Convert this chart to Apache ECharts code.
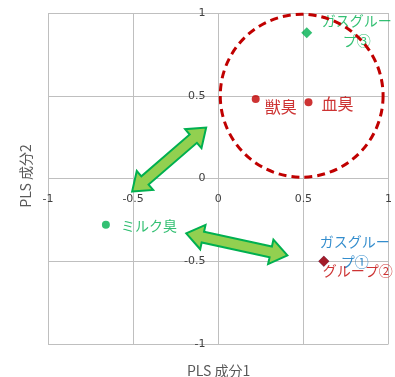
<!DOCTYPE html>
<html>
<head>
<meta charset="utf-8">
<script src="https://cdn.jsdelivr.net/npm/echarts@6/dist/echarts.min.js"></script>
<style>html,body{margin:0;padding:0;background:#fff}#c{width:395px;height:377px}</style>
</head>
<body>
<div id="c"></div>
<script>
// ---- data ----
var axisTicks = [-1, -0.5, 0, 0.5, 1];
var redPointNames = ['獣臭', '血臭'];
var redPointX = [0.22, 0.53];
var redPointY = [0.48, 0.46];
var milkName = 'ミルク臭';
var milkX = [-0.66];
var milkY = [-0.28];
var gas3Name = 'ガスグルー\nプ③';
var gas3X = [0.52];
var gas3Y = [0.88];
var gas1Name = 'ガスグルー\nプ①';
var gas1X = [0.62];
var gas1Y = [-0.50];
var gas2Name = 'グループ②';
var gas2X = [0.62];
var gas2Y = [-0.50];
// annotations (data units)
var circleCenterX = [0.49];
var circleCenterY = [0.50];
var circleRadius = [0.485];
var arrowX1 = [-0.506, -0.188];
var arrowY1 = [-0.079, -0.332];
var arrowX2 = [-0.071, 0.406];
var arrowY2 = [0.308, -0.465];

var RED = '#c00000', GREEN = '#00b050', BLUE = '#0070c0', GRAY = '#595959', LBL = '#404040';
var JP = '"Noto Sans CJK JP", "Noto Sans", sans-serif';

function zip(xs, ys) { return xs.map(function (x, i) { return [x, ys[i]]; }); }

var chart = echarts.init(document.getElementById('c'), null, { renderer: 'canvas' });

var GL = 48, GR = 6, GT = 13, GB = 33, W = 395, H = 377;
var plotW = W - GL - GR, plotH = H - GT - GB;

function axisCfg(extra) {
  var base = {
    type: 'value', min: axisTicks[0], max: axisTicks[axisTicks.length - 1], interval: axisTicks[1] - axisTicks[0],
    axisLine: { show: false, onZero: false },
    axisTick: { show: false },
    splitLine: { show: true, lineStyle: { color: '#bfbfbf', width: 1 } },
    axisLabel: { color: LBL, fontSize: 11, fontFamily: '"DejaVu Sans", sans-serif' }
  };
  return echarts.util.merge(base, extra, true);
}

var option = {
  animation: false,
  grid: { left: GL, right: GR, top: GT, bottom: GB },
  // axes placed through the zero point of the other axis (as in the reference)
  xAxis: axisCfg({ offset: -plotH / 2, axisLabel: { margin: 15 } }),
  yAxis: axisCfg({ offset: -plotW / 2, axisLabel: { margin: 13 } }),
  graphic: [
    { type: 'text', left: 187, top: 364, style: { text: 'PLS 成分1', fill: GRAY, font: '14px ' + JP } },
    { type: 'text', x: 26, y: 176, rotation: Math.PI / 2, style: { text: 'PLS 成分2', fill: GRAY, font: '14px ' + JP, align: 'center', verticalAlign: 'middle' } }
  ],
  series: [
    {
      type: 'custom', z: 5, silent: true,
      data: [[circleCenterX[0], circleCenterY[0], circleRadius[0]]],
      renderItem: function (params, api) {
        var c = api.coord([api.value(0), api.value(1)]);
        var s = api.size([api.value(2), api.value(2)]);
        return {
          type: 'circle',
          shape: { cx: c[0], cy: c[1], r: (s[0] + s[1]) / 2 },
          style: { fill: 'none', stroke: RED, lineWidth: 3, lineDash: [8, 5] }
        };
      }
    },
    {
      type: 'custom', z: 6, silent: true,
      encode: { x: [0, 2], y: [1, 3] },
      data: arrowX1.map(function (x, i) { return [x, arrowY1[i], arrowX2[i], arrowY2[i]]; }),
      renderItem: function (params, api) {
        var a = api.coord([api.value(0), api.value(1)]);
        var b = api.coord([api.value(2), api.value(3)]);
        var dx = b[0] - a[0], dy = b[1] - a[1];
        var L = Math.sqrt(dx * dx + dy * dy);
        var ux = dx / L, uy = dy / L, nx = -uy, ny = ux;
        var h = 17, hw = 12.5, sw = 5.5;
        function P(t, w) { return [a[0] + ux * t + nx * w, a[1] + uy * t + ny * w]; }
        var pts = [P(0, 0), P(h, hw), P(h, sw), P(L - h, sw), P(L - h, hw), P(L, 0),
                   P(L - h, -hw), P(L - h, -sw), P(h, -sw), P(h, -hw)];
        return {
          type: 'polygon', shape: { points: pts },
          style: { fill: '#92d050', stroke: GREEN, lineWidth: 2, lineJoin: 'miter' }
        };
      }
    },
    {
      type: 'scatter', z: 3, symbol: 'circle', symbolSize: 8,
      itemStyle: { color: RED },
      data: redPointNames.map(function (n, i) {
        return {
          name: n, value: [redPointX[i], redPointY[i]],
          label: i === 0 ? { distance: 5, offset: [0, 8] } : { distance: 9, offset: [0, 2] }
        };
      }),
      label: { show: true, position: 'right', formatter: '{b}', color: RED, fontSize: 16, fontFamily: JP }
    },
    {
      type: 'scatter', z: 3, symbol: 'circle', symbolSize: 8,
      itemStyle: { color: GREEN },
      data: [{ name: milkName, value: zip(milkX, milkY)[0] }],
      label: { show: true, position: 'right', distance: 11, offset: [0, 1], formatter: '{b}', color: GREEN, fontSize: 14, fontFamily: JP }
    },
    {
      type: 'scatter', z: 3, symbol: 'diamond', symbolSize: 11,
      itemStyle: { color: GREEN },
      data: [{ name: gas3Name, value: zip(gas3X, gas3Y)[0] }],
      label: { show: true, position: [55.5, 3.5], align: 'center', verticalAlign: 'middle', lineHeight: 20,
        formatter: '{b}', color: GREEN, fontSize: 14, fontFamily: JP }
    },
    {
      type: 'scatter', z: 3, symbol: 'diamond', symbolSize: 11,
      itemStyle: { color: BLUE },
      data: [{ name: gas1Name, value: zip(gas1X, gas1Y)[0] }],
      label: { show: true, position: [36.5, -4.5], align: 'center', verticalAlign: 'middle', lineHeight: 20,
        formatter: '{b}', color: BLUE, fontSize: 14, fontFamily: JP }
    },
    {
      type: 'scatter', z: 4, symbol: 'diamond', symbolSize: 11,
      itemStyle: { color: RED },
      data: [{ name: gas2Name, value: zip(gas2X, gas2Y)[0] }],
      label: { show: true, position: [4.5, 14.5], align: 'left', verticalAlign: 'middle',
        formatter: '{b}', color: RED, fontSize: 14, fontFamily: JP }
    }
  ]
};
chart.setOption(option);
</script>
</body>
</html>
